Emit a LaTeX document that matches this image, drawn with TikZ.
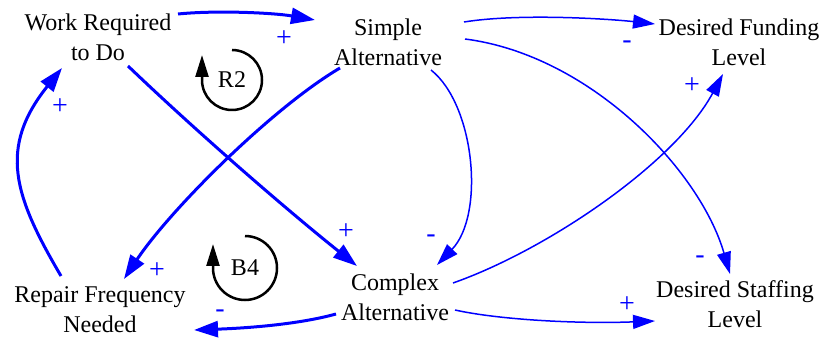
\documentclass[tikz,border=0pt]{standalone}
\usepackage{fontspec}
\setmainfont{Liberation Serif}
\usetikzlibrary{arrows.meta,calc}
\begin{document}
\begin{tikzpicture}[x=1pt,y=1pt,
  var/.style={inner sep=0pt,align=center,font=\rmfamily\fontsize{24}{30}\selectfont},
  thicklink/.style={draw=blue,line width=3pt,-{Triangle[length=24pt,width=16pt]}},
  thinlink/.style={draw=blue,line width=1.5pt,-{Triangle[length=22pt,width=14pt]}},
  polarity/.style={inner sep=0pt,text=blue,font=\rmfamily\fontsize{28}{28}\selectfont},
  loopmark/.style={draw=black,line width=2.5pt,-{Triangle[length=22pt,width=13pt]}},
  looplabel/.style={inner sep=0pt,font=\rmfamily\fontsize{24}{24}\selectfont}]
\useasboundingbox (0,0) rectangle (825,-339);

% variables
\node[var] (work)     at (98,-37)  {Work Required\\to Do};
\node[var] (simple)   at (388,-42) {Simple\\Alternative};
\node[var] (funding)  at (739,-42) {Desired Funding\\Level};
\node[var] (repair)   at (100,-310) {Repair Frequency\\Needed};
\node[var] (complex)  at (395,-297) {Complex\\Alternative};
\node[var] (staffing) at (735,-304) {Desired Staffing\\Level};

% causal links
\draw[thicklink] ($(work)+(80,23)$) .. controls +(40,4) and +(-40,7) .. ($(simple)+(-73,22)$);
\draw[thinlink] ($(simple)+(76,20)$) .. controls +(56,9) and +(-45,5) .. ($(funding)+(-84,18)$);
\draw[thinlink] ($(simple)+(77,3)$) .. controls +(125,-16) and +(-30,104) .. ($(staffing)+(-5,30)$);
\draw[thinlink] ($(simple)+(43,-28)$) .. controls +(44,-35) and +(48,50) .. ($(complex)+(42,32)$);
\draw[thicklink] ($(simple)+(-48,-26)$) .. controls +(-68,-40) and +(46,69) .. ($(repair)+(24,31)$);
\draw[thicklink] ($(work)+(30,-29)$) .. controls +(70,-67) and +(-70,56) .. ($(complex)+(-38,31)$);
\draw[thicklink] ($(repair)+(-39,34)$) .. controls +(-47,80) and +(-64,-80) .. ($(work)+(-36,-31)$);
\draw[thicklink] ($(complex)+(-59,-17)$) .. controls +(-36,-10) and +(56,2) .. ($(repair)+(94,-20)$);
\draw[thinlink] ($(complex)+(58,14)$) .. controls +(94,33) and +(-48,-89) .. ($(funding)+(-16,-32)$);
\draw[thinlink] ($(complex)+(60,-13)$) .. controls +(45,-10) and +(-75,-3) .. ($(staffing)+(-80,-17)$);

% polarities
\node[polarity] (p1)  at (284,-39)  {+};
\node[polarity] (p2)  at (627,-45)  {-};
\node[polarity] (p3)  at (700,-260) {-};
\node[polarity] (p4)  at (431,-239) {-};
\node[polarity] (p5)  at (157,-271) {+};
\node[polarity] (p6)  at (346,-232) {+};
\node[polarity] (p7)  at (60,-107)  {+};
\node[polarity] (p8)  at (220,-314) {-};
\node[polarity] (p9)  at (692,-86)  {+};
\node[polarity] (p10) at (627,-305) {+};

% loop markers
\draw[loopmark] (232,-50) arc[start angle=90,end angle=-180,radius=30] -- ++(0,25);
\node[looplabel] (r2) at (232,-80) {R2};
\draw[loopmark] (245,-236) arc[start angle=90,end angle=-180,radius=32] -- ++(0,24);
\node[looplabel] (b4) at (245,-268) {B4};
\end{tikzpicture}
\end{document}
